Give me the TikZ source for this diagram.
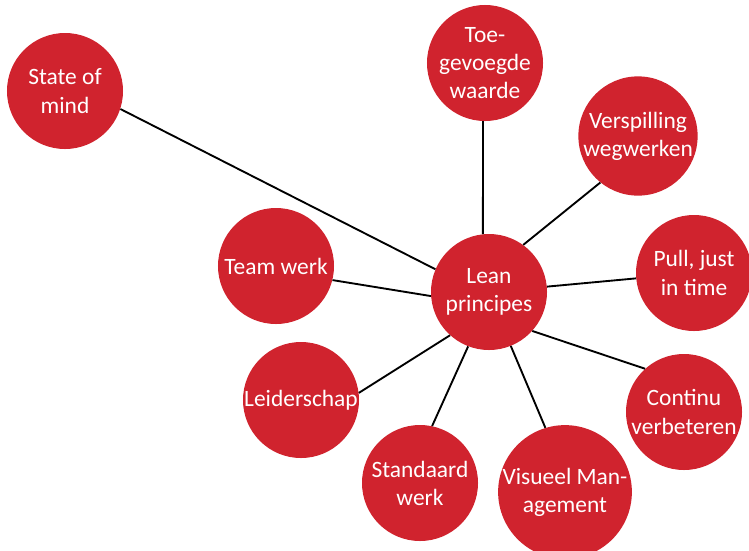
\documentclass[tikz,border=0pt]{standalone}
\usepackage{fontspec}
\setmainfont{Carlito}
\definecolor{leanred}{HTML}{D0232E}
\begin{document}
\begin{tikzpicture}[x=0.03cm,y=-0.03cm,
  bubble/.style={circle,fill=leanred,draw=none,minimum size=3.48cm,inner sep=0pt,
    text=white,align=center,font=\fontsize{20}{24}\selectfont},
  link/.style={draw=black,line width=1.6pt}]
  \useasboundingbox[fill=white] (0,0) rectangle (749,550);
  % centre and surrounding principles
  \node[bubble] (lean) at (489,292) {Lean\\principes};
  \node[bubble] (som)  at (65,91)   {State of\\mind};
  \node[bubble] (toe)  at (485,63)  {Toe-\\gevoegde\\waarde};
  \node[bubble] (versp) at (638,136) {Verspilling\\wegwerken};
  \node[bubble] (pull) at (694,273) {Pull, just\\in time};
  \node[bubble] (cont) at (684,412) {Continu\\verbeteren};
  \node[bubble] (vis)  at (565,492) {Visueel Man-\\agement};
  \node[bubble] (std)  at (420,483) {Standaard\\werk};
  \node[bubble] (leid) at (301,400) {Leiderschap};
  \node[bubble] (team) at (276,266) {Team werk};
  % spokes
  \draw[link] (lean.157) -- (som.-18);
  \draw[link] (lean.96) -- (toe.-92);
  \draw[link] (lean.54) -- (versp.-129);
  \draw[link] (lean) -- (pull);
  \draw[link] (lean.-42) -- (cont.132);
  \draw[link] (lean.-68) -- (vis.107);
  \draw[link] (lean.-111) -- (std.78);
  \draw[link] (lean.-132) -- (leid.7);
  \draw[link] (lean.184) -- (team.-14);
\end{tikzpicture}
\end{document}
